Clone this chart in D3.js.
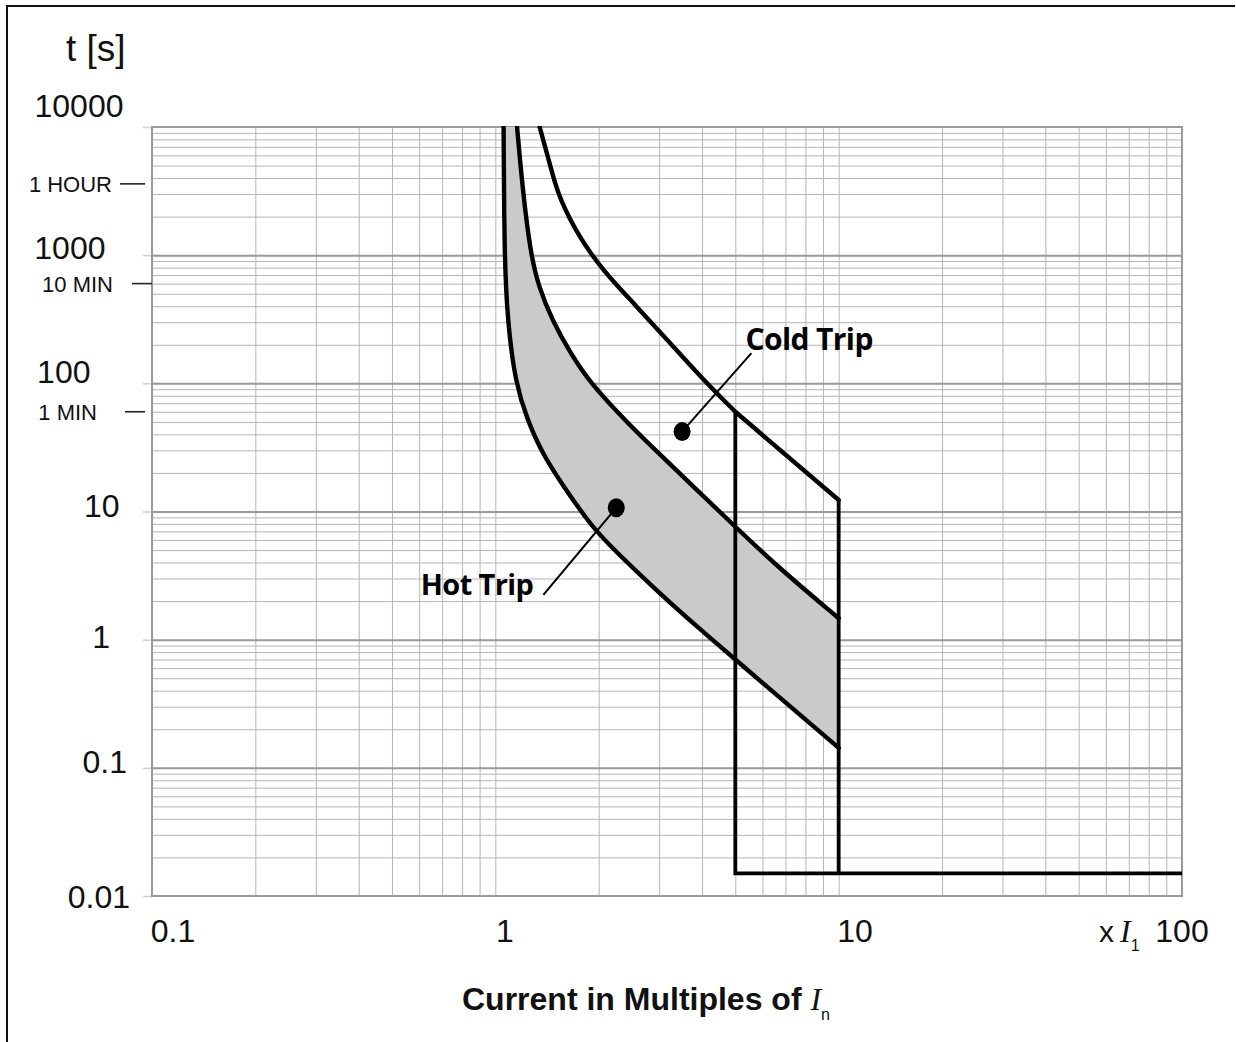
<!DOCTYPE html>
<html><head><meta charset="utf-8">
<script src="https://cdn.jsdelivr.net/npm/d3@7"></script>
<style>body{margin:0;background:#fff}svg{display:block}</style>
</head><body><svg id="c" width="1236" height="1042"></svg>
<script>
// ---------------- data ----------------
const xTickValues = [0.1, 1, 10, 100];
const xTickLabels = ["0.1", "1", "10", "100"];
const yTickValues = [10000, 1000, 100, 10, 1, 0.1, 0.01];
const yTickLabels = ["10000", "1000", "100", "10", "1", "0.1", "0.01"];
const timeMarkValues = [3600, 600, 60];
const timeMarkLabels = ["1 HOUR", "10 MIN", "1 MIN"];

// Hot trip lower bound (current multiple, seconds)
const hotLowerI = [1.057, 1.062, 1.084, 1.144, 1.24, 1.368, 1.582, 1.851, 2.069, 3.0, 4.0, 5.0, 10];
const hotLowerT = [10000, 1040, 312, 100, 51.8, 28.5, 15.6, 8.6, 6.0, 2.31, 1.17, 0.7, 0.143];
// Hot trip upper bound
const hotUpperI = [1.157, 1.199, 1.265, 1.337, 1.463, 1.654, 1.892, 2.426, 3.027, 3.778, 5.0, 6.64, 10];
const hotUpperT = [10000, 3400, 1040, 568, 312, 172, 100, 49.1, 27.6, 15.6, 7.6, 3.7, 1.47];
// Cold trip curve
const coldI = [1.346, 1.418, 1.496, 1.557, 1.643, 1.757, 1.892, 2.065, 2.268, 2.508, 3.172, 4.013, 5.0, 10];
const coldT = [10000, 6050, 3530, 2650, 1950, 1410, 1040, 766, 575, 431, 218, 108, 60, 12.3];
// Instantaneous (short-circuit) band
const instBandI = [5, 10];
const instMaxI = 100;
const instT = 0.015;

// Annotations
const annoNames = ["Cold Trip", "Hot Trip"];
const annoDotI = [3.5, 2.25];
const annoDotT = [42, 10.7];
const annoEndI = [5.57, 1.38];
const annoEndT = [172, 2.24];

// ---------------- layout ----------------
const plot = {left: 152, right: 1182, top: 127, bottom: 896};
const yLabelEndX = [123.5, 105.5, 90.5, 119.5, 110, 127, 130];
const yLabelDy = [-10, 4, 0, 5, 8, 5, 12];
const xLabelCx = [173, 505, 855, 1182];
const xLabelBaseline = 942;

const svg = d3.select("#c");
const x = d3.scaleLog().domain([0.1, 100]).range([plot.left, plot.right]);
const y = d3.scaleLog().domain([0.01, 10000]).range([plot.bottom, plot.top]);

// outer frame (top + left)
svg.append("path").attr("d", `M7,1060 V6 H1235`).attr("fill", "none")
  .attr("stroke", "#111").attr("stroke-width", 2);

// grid values
const gridX = [], gridY = [];
for (let e = -1; e < 2; e++) for (let m = 1; m < 10; m++) gridX.push(m * Math.pow(10, e));
for (let e = -2; e < 4; e++) for (let m = 1; m < 10; m++) gridY.push(m * Math.pow(10, e));
const minorY = gridY.filter((v, i) => i % 9 !== 0);
const majorY = gridY.filter((v, i) => i % 9 === 0);

const gridG = svg.append("g");
gridG.append("g").attr("transform", `translate(0,${plot.bottom})`)
  .call(d3.axisBottom(x).tickValues(gridX.slice(1)).tickSize(-(plot.bottom - plot.top)).tickFormat(""))
  .call(g => g.select(".domain").remove())
  .call(g => g.selectAll("line").attr("stroke", "#b5b5b5").attr("stroke-width", 1));
gridG.append("g").attr("transform", `translate(${plot.left},0)`)
  .call(d3.axisLeft(y).tickValues(minorY).tickSize(-(plot.right - plot.left)).tickFormat(""))
  .call(g => g.select(".domain").remove())
  .call(g => g.selectAll("line").attr("stroke", "#b5b5b5").attr("stroke-width", 1));
gridG.append("g").attr("transform", `translate(${plot.left},0)`)
  .call(d3.axisLeft(y).tickValues(majorY.slice(1)).tickSize(-(plot.right - plot.left)).tickFormat(""))
  .call(g => g.select(".domain").remove())
  .call(g => g.selectAll("line").attr("stroke", "#999").attr("stroke-width", 2));
gridG.append("g").attr("transform", `translate(${plot.left},0)`)
  .call(d3.axisLeft(y).tickValues(yTickValues).tickSize(9).tickFormat(""))
  .call(g => g.select(".domain").remove())
  .call(g => g.selectAll("line").attr("stroke", "#cfcfcf").attr("stroke-width", 1.5));
svg.append("rect").attr("x", plot.left).attr("y", plot.top)
  .attr("width", plot.right - plot.left).attr("height", plot.bottom - plot.top)
  .attr("fill", "none").attr("stroke", "#999").attr("stroke-width", 2);

svg.append("clipPath").attr("id", "clip").append("rect")
  .attr("x", plot.left).attr("y", plot.top - 1)
  .attr("width", plot.right - plot.left + 2).attr("height", plot.bottom - plot.top + 2);

const zip = (a, b) => a.map((v, i) => [v, b[i]]);
const hotLower = zip(hotLowerI, hotLowerT);
const hotUpper = zip(hotUpperI, hotUpperT);
const cold = zip(coldI, coldT);
const curveGen = d3.line().x(d => x(d[0])).y(d => y(d[1])).curve(d3.curveBasis);
const linGen = d3.line().x(d => x(d[0])).y(d => y(d[1]));

const cg = svg.append("g").attr("clip-path", "url(#clip)");
const fillPath = cg.append("path").attr("fill", "#c9cacc").attr("stroke", "none");

const stroke = 4.4;
const styleLine = p => p.attr("fill", "none").attr("stroke", "#000")
  .attr("stroke-width", stroke).attr("stroke-linecap", "round").attr("stroke-linejoin", "round");

cg.append("path").attr("d", curveGen(hotLower)).call(styleLine);
const upperP = cg.append("path").attr("d", curveGen(hotUpper)).call(styleLine);
const coldBend = cold.filter(p => p[0] <= instBandI[0]);
const coldStraight = cold.filter(p => p[0] >= instBandI[0]);
cg.append("path").attr("d", curveGen(coldBend)).call(styleLine);
cg.append("path").attr("d", linGen(coldStraight)).call(styleLine);

// shaded hot trip band: lower curve + sampled reversed upper curve
const un = upperP.node(), uL = un.getTotalLength();
const upSamples = d3.range(0, 301).map(i => un.getPointAtLength(uL * i / 300)).reverse();
fillPath.attr("d", curveGen(hotLower) + upSamples.map(p => `L${p.x},${p.y}`).join("") + "Z");

// instantaneous trip box
const coldAt5 = coldT[coldI.indexOf(instBandI[0])];
const coldAt10 = coldT[coldI.indexOf(instBandI[1])];
cg.append("path")
  .attr("d", `M${x(instBandI[0])},${y(coldAt5)} V${y(instT)} H${x(instMaxI)} M${x(instBandI[1])},${y(coldAt10)} V${y(instT)}`)
  .attr("fill", "none").attr("stroke", "#000").attr("stroke-width", 3.8).attr("stroke-linejoin", "miter");

// annotations
const labelFont = "'Open Sans', 'Noto Sans', sans-serif";
annoNames.forEach((name, i) => {
  svg.append("line").attr("x1", x(annoDotI[i])).attr("y1", y(annoDotT[i]))
    .attr("x2", x(annoEndI[i])).attr("y2", y(annoEndT[i]))
    .attr("stroke", "#000").attr("stroke-width", 2);
  svg.append("ellipse").attr("cx", x(annoDotI[i])).attr("cy", y(annoDotT[i]))
    .attr("rx", 8.5).attr("ry", 9.5).attr("fill", "#000");
});
svg.append("text").attr("x", x(annoEndI[0]) - 6).attr("y", y(annoEndT[0]) - 3)
  .attr("font-family", labelFont).attr("font-weight", 700).attr("font-size", 30)
  .attr("letter-spacing", -0.6).text(annoNames[0]);
svg.append("text").attr("x", x(annoEndI[1]) - 10).attr("y", y(annoEndT[1]))
  .attr("text-anchor", "end")
  .attr("font-family", labelFont).attr("font-weight", 700).attr("font-size", 29)
  .attr("letter-spacing", -0.6).text(annoNames[1]);

// y tick labels
const sans = "'Liberation Sans', Arial, sans-serif";
yTickValues.forEach((v, i) => {
  svg.append("text").attr("x", yLabelEndX[i]).attr("y", y(v) + yLabelDy[i])
    .attr("text-anchor", "end").attr("font-family", sans).attr("font-size", 32)
    .attr("fill", "#111").text(yTickLabels[i]);
});
// time marks
const tmLabelEnd = [112, 113, 97];
const tmDash = [[120, 145], [132, 152], [125, 145]];
timeMarkValues.forEach((v, i) => {
  const yy = y(v);
  svg.append("line").attr("x1", tmDash[i][0]).attr("x2", tmDash[i][1])
    .attr("y1", yy).attr("y2", yy).attr("stroke", "#222").attr("stroke-width", 1.6);
  svg.append("text").attr("x", tmLabelEnd[i]).attr("y", yy + 8)
    .attr("text-anchor", "end").attr("font-family", sans).attr("font-size", 22)
    .attr("fill", "#111").text(timeMarkLabels[i]);
});
svg.append("text").attr("x", 66).attr("y", 61).attr("font-family", sans)
  .attr("font-size", 37).attr("fill", "#111").text("t [s]");

// x tick labels
xTickValues.forEach((v, i) => {
  svg.append("text").attr("x", xLabelCx[i]).attr("y", xLabelBaseline)
    .attr("text-anchor", "middle").attr("font-family", sans).attr("font-size", 32)
    .attr("fill", "#111").text(xTickLabels[i]);
});
const serif = "'Liberation Serif', 'Times New Roman', serif";
const unit = svg.append("text").attr("x", 1099).attr("y", xLabelBaseline)
  .attr("font-family", sans).attr("font-size", 32).attr("fill", "#111");
unit.append("tspan").attr("font-size", 30).text("x");
unit.append("tspan").attr("dx", 6).attr("font-family", serif).attr("font-style", "italic").text("I");
unit.append("tspan").attr("dy", 9).attr("font-size", 16).text("1");

const title = svg.append("text").attr("x", 462).attr("y", 1010)
  .attr("font-family", sans).attr("font-size", 32).attr("font-weight", 700).attr("fill", "#111");
title.append("tspan").text("Current in Multiples of ");
title.append("tspan").attr("font-family", serif).attr("font-style", "italic").attr("font-weight", 400).text("I");
title.append("tspan").attr("dy", 10).attr("font-size", 16).attr("font-weight", 400).text("n");
</script></body></html>
